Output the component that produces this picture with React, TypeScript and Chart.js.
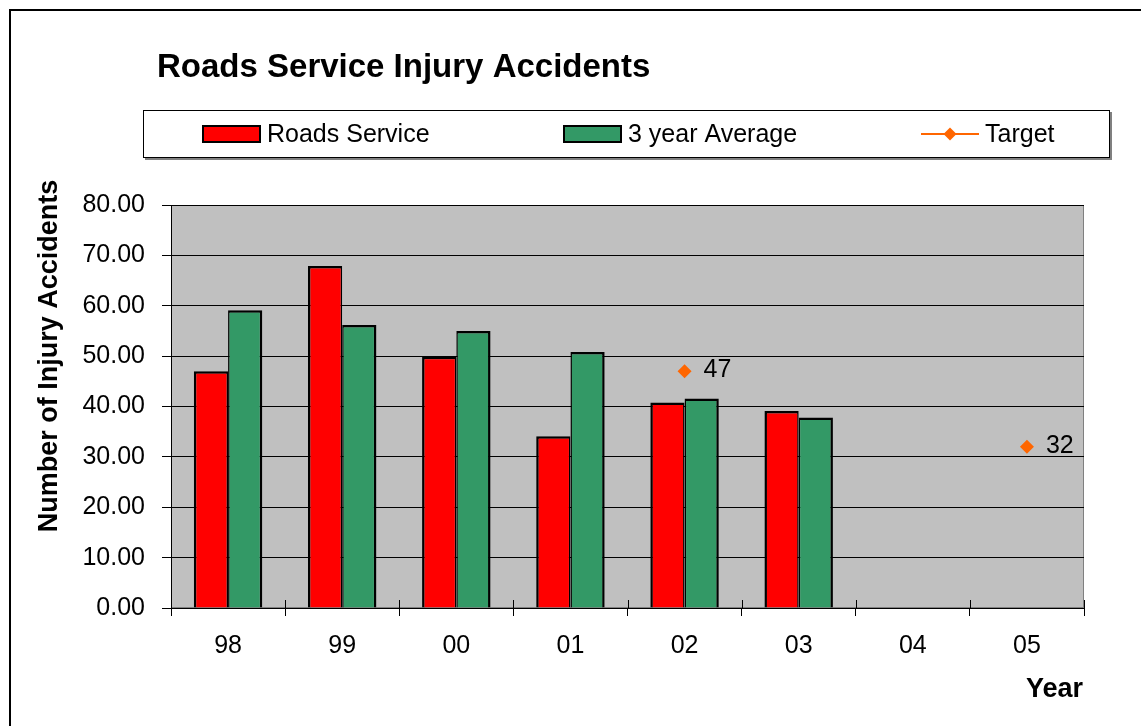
import React, { useEffect, useRef } from 'react';
import { Chart, registerables } from 'chart.js';

Chart.register(...registerables);

const FONT = '"Liberation Sans", Arial, Helvetica, sans-serif';

const chartTitle = 'Roads Service Injury Accidents';
const yAxisTitle = 'Number of Injury Accidents';
const xAxisTitle = 'Year';

const categories = ['98', '99', '00', '01', '02', '03', '04', '05'];
const roadsService = [47.0, 67.9, 49.9, 34.1, 40.8, 39.1, null, null];
const threeYearAverage = [59.1, 56.2, 55.0, 50.8, 41.6, 37.8, null, null];
const target = [null, null, null, null, 47, null, null, 32];

const yMin = 0;
const yMax = 80;
const yStep = 10;

export default function App() {
  const ref = useRef<HTMLCanvasElement>(null);

  useEffect(() => {
    const canvas = ref.current;
    if (!canvas) return;

    const decor = {
      id: 'decor',
      beforeDraw(chart: any) {
        const { ctx, chartArea: a } = chart;
        ctx.save();
        ctx.fillStyle = '#ffffff';
        ctx.fillRect(0, 0, chart.width, chart.height);
        // outer frame
        ctx.strokeStyle = '#000';
        ctx.lineWidth = 2;
        ctx.strokeRect(10, 10, chart.width + 40, chart.height + 40);
        // plot area
        ctx.fillStyle = '#C0C0C0';
        ctx.fillRect(a.left, a.top, a.right - a.left, a.bottom - a.top);
        ctx.strokeStyle = '#808080';
        ctx.lineWidth = 1;
        ctx.strokeRect(a.left + 0.5, a.top + 0.5, a.right - a.left - 1, a.bottom - a.top - 1);
        // title
        ctx.fillStyle = '#000';
        ctx.font = `bold 33px ${FONT}`;
        ctx.textAlign = 'left';
        ctx.textBaseline = 'alphabetic';
        ctx.fillText(chartTitle, 157, 77);
        // legend box
        ctx.fillStyle = '#808080';
        ctx.fillRect(145, 112, 967, 48);
        ctx.fillStyle = '#ffffff';
        ctx.fillRect(143, 110, 967, 48);
        ctx.strokeStyle = '#000';
        ctx.lineWidth = 1;
        ctx.strokeRect(143.5, 110.5, 966, 47);
        const ds = chart.data.datasets;
        const itemX = [203, 564, 921];
        ctx.font = `25px ${FONT}`;
        ctx.textBaseline = 'alphabetic';
        ds.forEach((d: any, i: number) => {
          const x = itemX[i];
          if (d.type === 'line') {
            ctx.strokeStyle = d.borderColor;
            ctx.lineWidth = 2;
            ctx.beginPath();
            ctx.moveTo(x, 134);
            ctx.lineTo(x + 58, 134);
            ctx.stroke();
            ctx.fillStyle = d.backgroundColor;
            ctx.beginPath();
            ctx.moveTo(x + 29 - 6.5, 134);
            ctx.lineTo(x + 29, 134 - 6.5);
            ctx.lineTo(x + 29 + 6.5, 134);
            ctx.lineTo(x + 29, 134 + 6.5);
            ctx.closePath();
            ctx.fill();
            ctx.fillStyle = '#000';
            ctx.fillText(d.label, x + 64, 142);
          } else {
            ctx.fillStyle = d.backgroundColor;
            ctx.fillRect(x, 126, 57, 16);
            ctx.strokeStyle = '#000';
            ctx.lineWidth = 2;
            ctx.strokeRect(x, 126, 57, 16);
            ctx.fillStyle = '#000';
            ctx.fillText(d.label, x + 64, 142);
          }
        });
        // axis titles
        ctx.font = `bold 27px ${FONT}`;
        ctx.save();
        ctx.translate(57, 356);
        ctx.rotate(-Math.PI / 2);
        ctx.textAlign = 'center';
        ctx.fillText(yAxisTitle, 0, 0);
        ctx.restore();
        ctx.textAlign = 'right';
        ctx.fillText(xAxisTitle, a.right - 1, 697);
        ctx.restore();
      },
      afterDraw(chart: any) {
        const { ctx, chartArea: a } = chart;
        const xs = chart.scales.x;
        const n = chart.data.labels.length;
        const w = (xs.right - xs.left) / n;
        ctx.save();
        ctx.strokeStyle = '#000';
        ctx.lineWidth = 1;
        ctx.beginPath();
        for (let i = 0; i <= n; i++) {
          const x = Math.round(xs.left + i * w) + 0.5;
          ctx.moveTo(x, a.bottom - 8);
          ctx.lineTo(x, a.bottom);
        }
        ctx.stroke();
        ctx.restore();
      },
    };

    const valueLabels = {
      id: 'valueLabels',
      afterDatasetsDraw(chart: any) {
        const { ctx } = chart;
        chart.data.datasets.forEach((d: any, i: number) => {
          if (d.type !== 'line') return;
          const meta = chart.getDatasetMeta(i);
          ctx.save();
          ctx.font = `25px ${FONT}`;
          ctx.fillStyle = '#000';
          ctx.textAlign = 'left';
          ctx.textBaseline = 'middle';
          meta.data.forEach((el: any, j: number) => {
            const v = d.data[j];
            if (v === null || v === undefined) return;
            ctx.fillText(String(v), el.x + 19, el.y - 1);
          });
          ctx.restore();
        });
      },
    };

    const chart = new Chart(canvas, {
      type: 'bar',
      data: {
        labels: categories,
        datasets: [
          {
            label: 'Roads Service',
            data: roadsService,
            backgroundColor: '#FF0000',
            borderColor: '#000000',
            borderWidth: { left: 2.5, right: 1.5, top: 2.5, bottom: 0 },
            categoryPercentage: 0.6,
            barPercentage: 1.0,
          } as any,
          {
            label: '3 year Average',
            data: threeYearAverage,
            backgroundColor: '#339966',
            borderColor: '#000000',
            borderWidth: { left: 1.5, right: 2.5, top: 2.5, bottom: 0 },
            categoryPercentage: 0.6,
            barPercentage: 1.0,
          } as any,
          {
            type: 'line',
            label: 'Target',
            data: target,
            borderColor: '#FF6600',
            backgroundColor: '#FF6600',
            borderWidth: 2,
            pointStyle: 'rectRot',
            pointRadius: 7,
            pointBorderWidth: 0,
            spanGaps: false,
            order: -1,
          } as any,
        ],
      },
      options: {
        responsive: false,
        animation: false,
        layout: { padding: { left: 0, top: 205, right: 57, bottom: 0 } },
        plugins: {
          legend: { display: false },
          title: { display: false },
          tooltip: { enabled: false },
        },
        scales: {
          x: {
            afterFit: (s: any) => {
              s.height = 118;
            },
            grid: {
              display: true,
              drawOnChartArea: false,
              drawTicks: true,
              tickLength: 8,
              color: '#000',
              offset: true,
            },
            border: { display: true, color: '#000', width: 1 },
            ticks: {
              font: { family: FONT, size: 25 },
              color: '#000',
              padding: 15,
              maxRotation: 0,
              autoSkip: false,
            },
          },
          y: {
            min: yMin,
            max: yMax,
            afterFit: (s: any) => {
              s.width = 171;
            },
            grid: {
              color: '#000',
              lineWidth: 1,
              tickLength: 9,
              drawTicks: true,
            },
            border: { display: true, color: '#000', width: 1 },
            ticks: {
              stepSize: yStep,
              font: { family: FONT, size: 25 },
              color: '#000',
              padding: 17,
              callback: (v: any) => Number(v).toFixed(2),
            },
          },
        },
      },
      plugins: [decor, valueLabels],
    });

    return () => chart.destroy();
  }, []);

  return (
    <div style={{ position: 'fixed', left: 0, top: 0, width: 1141, height: 726, background: '#fff' }}>
      <canvas ref={ref} width={1141} height={726} style={{ display: 'block' }} />
    </div>
  );
}
